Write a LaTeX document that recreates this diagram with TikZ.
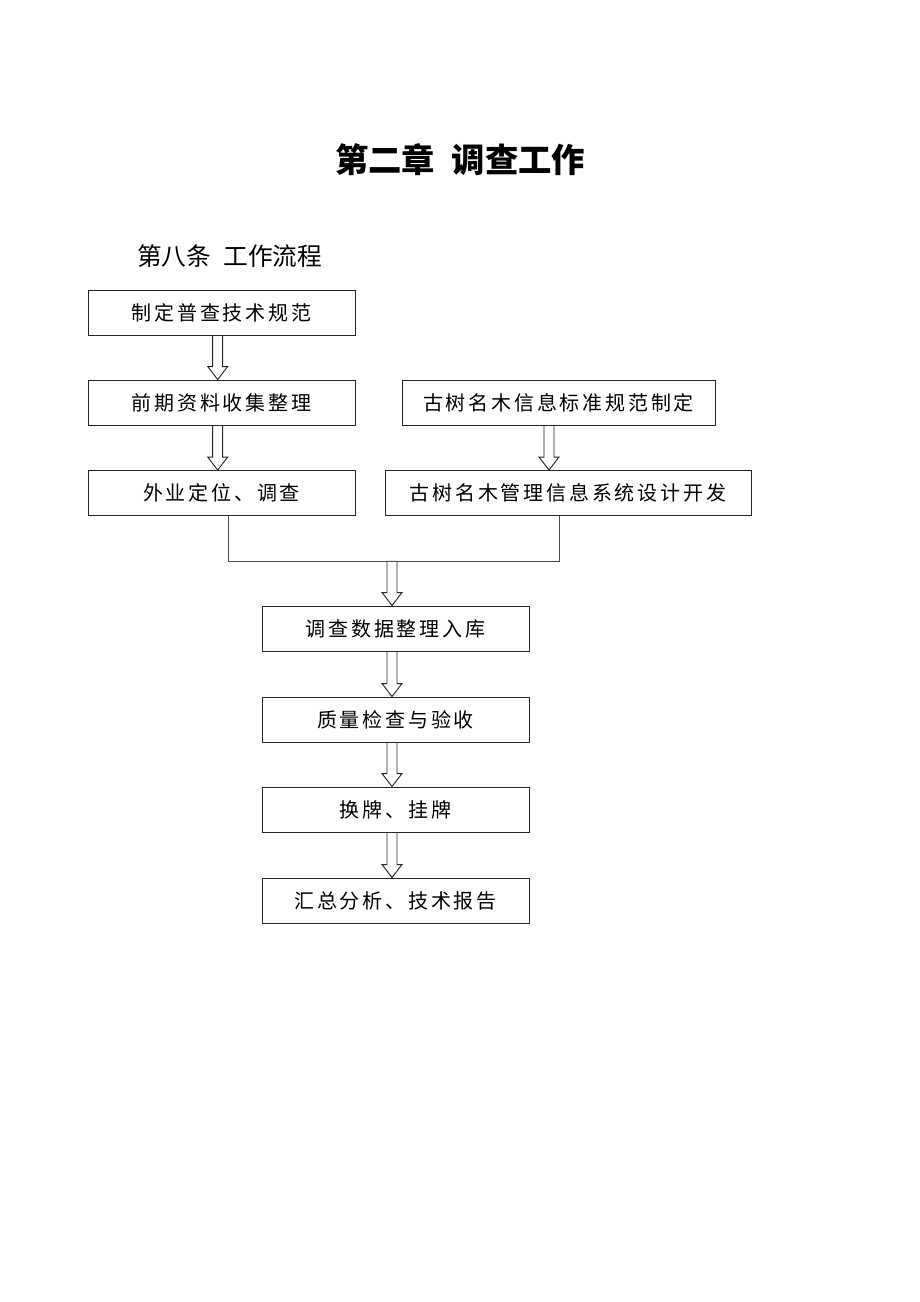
\documentclass[tikz,border=0pt]{standalone}
\usepackage{fontspec}
\newfontfamily\cjk{Noto Sans CJK SC}
\newfontfamily\cjkbox[LetterSpace=14]{Noto Sans CJK SC}
\usetikzlibrary{calc}
\newcommand\blockarr[3]{%
  \coordinate (s) at (#2.south -| #1);
  \coordinate (e) at (#3.north -| #1);
  \draw[barrow] ($(s)+(-5,0)$) -- ($(e)+(-5,-13)$) -- ($(e)+(-10,-13)$) -- (e)
    -- ($(e)+(10,-13)$) -- ($(e)+(5,-13)$) -- ($(s)+(5,0)$) -- cycle;}
\begin{document}
\begin{tikzpicture}[x=0.75pt,y=-0.75pt,
  box/.style={draw=black!85, line width=0.7pt, minimum height=33.75pt, inner sep=0pt,
    font=\cjkbox\fontsize{15pt}{15pt}\selectfont},
  barrow/.style={draw=black!85, fill=white, line width=0.7pt, line join=miter},
  link/.style={draw=gray!60!black, line width=0.7pt}]
\useasboundingbox (0,0) rectangle (920,1302);
\node[font=\cjk\bfseries\fontsize{25pt}{25pt}\selectfont] (title) at (460,160) {第二章\hspace{0.5em}调查工作};
\node[font=\cjk\fontsize{18.5pt}{18.5pt}\selectfont, anchor=west, inner sep=0pt] (sub) at (137,256) {第八条\hspace{0.5em}工作流程};

\node[box, minimum width=200.25pt] (b1) at (221.5,312.5) {制定普查技术规范};
\node[box, minimum width=200.25pt] (b2) at (221.5,402.5) {前期资料收集整理};
\node[box, minimum width=200.25pt] (b3) at (221.5,493) {外业定位、调查};
\node[box, minimum width=234.75pt] (r1) at (558.5,402.5) {古树名木信息标准规范制定};
\node[box, minimum width=274.5pt] (r2) at (568,493) {古树名木管理信息系统设计开发};
\node[box, minimum width=200.25pt] (c1) at (395.5,628.5) {调查数据整理入库};
\node[box, minimum width=200.25pt] (c2) at (395.5,719.5) {质量检查与验收};
\node[box, minimum width=200.25pt] (c3) at (395.5,809.5) {换牌、挂牌};
\node[box, minimum width=200.25pt] (c4) at (395.5,900.5) {汇总分析、技术报告};

\node[inner sep=0pt, minimum size=0pt] (j) at (392,561) {};
\coordinate (lx) at (228,0);
\coordinate (rx) at (559,0);
\coordinate (ax) at (217.7,0);
\coordinate (bx) at (549,0);
\coordinate (cx) at (392,0);

\draw[link] (b3.south -| lx) -- (lx |- j) -- (rx |- j) -- (r2.south -| rx);

\blockarr{ax}{b1}{b2}
\blockarr{ax}{b2}{b3}
\blockarr{bx}{r1}{r2}
\blockarr{cx}{j}{c1}
\blockarr{cx}{c1}{c2}
\blockarr{cx}{c2}{c3}
\blockarr{cx}{c3}{c4}
\end{tikzpicture}
\end{document}
